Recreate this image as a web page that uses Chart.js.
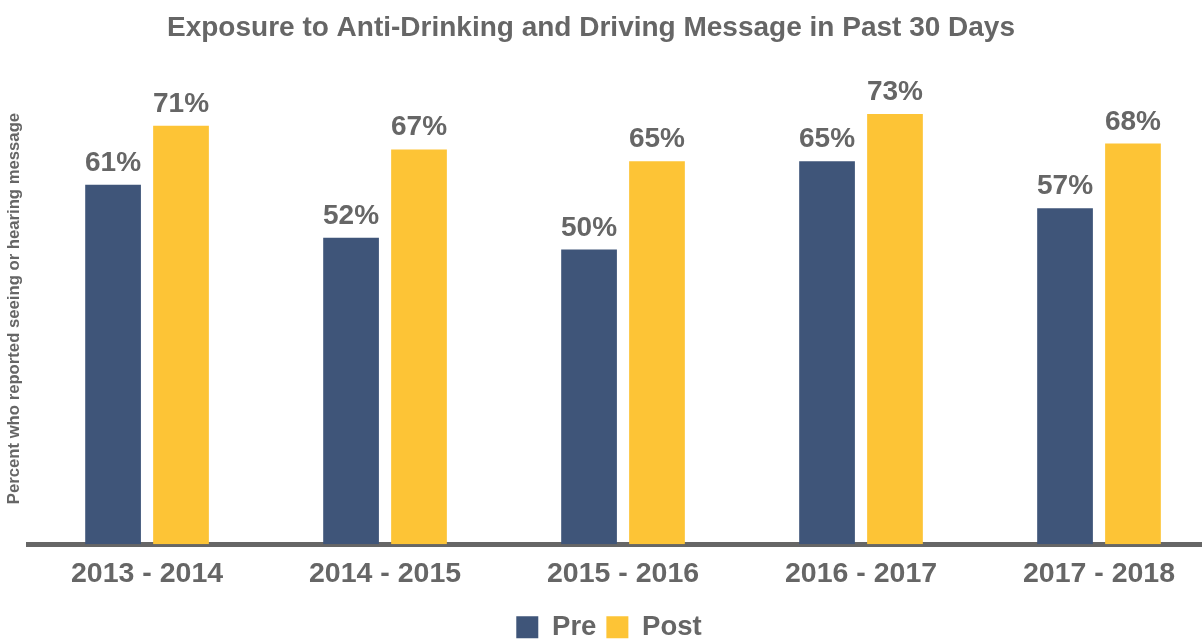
<!DOCTYPE html>
<html>
<head>
<meta charset="utf-8">
<title>Exposure to Anti-Drinking and Driving Message</title>
<script src="https://cdn.jsdelivr.net/npm/chart.js@4/dist/chart.umd.min.js"></script>
<style>
  html, body { margin: 0; padding: 0; background: #fff; overflow: hidden; }
  #caja { width: 1220px; height: 651px; }
</style>
</head>
<body>
<div id="caja"><canvas id="grafica" width="1220" height="651"></canvas></div>
<script>
const periodos = ["2013 - 2014", "2014 - 2015", "2015 - 2016", "2016 - 2017", "2017 - 2018"];
const valoresPre = [61, 52, 50, 65, 57];
const valoresPost = [71, 67, 65, 73, 68];
const nombresSeries = ["Pre", "Post"];
const titulo = "Exposure to Anti-Drinking and Driving Message in Past 30 Days";
const tituloEjeY = "Percent who reported seeing or hearing message";

const gris = "#666666";
const colorPre = "#3f5579";
const colorPost = "#fdc436";

Chart.defaults.font.family = "'Liberation Sans', Arial, Helvetica, sans-serif";
Chart.defaults.color = gris;

// etiquetas de porcentaje sobre cada barra
const etiquetasBarras = {
  id: "etiquetasBarras",
  afterDatasetsDraw(chart) {
    const ctx = chart.ctx;
    ctx.save();
    ctx.font = "bold 28px 'Liberation Sans', Arial, sans-serif";
    ctx.fillStyle = gris;
    ctx.textAlign = "center";
    ctx.textBaseline = "alphabetic";
    chart.data.datasets.forEach((ds, i) => {
      chart.getDatasetMeta(i).data.forEach((barra, j) => {
        ctx.fillText(`${ds.data[j]}%`, barra.x, barra.y - 14);
      });
    });
    ctx.restore();
  },
};

// el titulo va un poco corrido a la izquierda
const ajusteTitulo = {
  id: "ajusteTitulo",
  afterLayout(chart) {
    if (chart.titleBlock) {
      chart.titleBlock.right -= 36;
    }
  },
};

const configuracion = {
  type: "bar",
  data: {
    labels: periodos,
    datasets: [
      {
        label: nombresSeries[0],
        data: valoresPre,
        backgroundColor: colorPre,
        categoryPercentage: 0.571,
        barPercentage: 0.82,
      },
      {
        label: nombresSeries[1],
        data: valoresPost,
        backgroundColor: colorPost,
        categoryPercentage: 0.571,
        barPercentage: 0.82,
      },
    ],
  },
  options: {
    responsive: false,
    animation: false,
    layout: { padding: { left: 0, right: 2, top: 0, bottom: 0 } },
    plugins: {
      tooltip: { enabled: false },
      title: {
        display: true,
        text: titulo,
        color: gris,
        font: { size: 28, weight: "bold" },
        padding: { top: 11.2, bottom: 28 },
      },
      legend: {
        position: "bottom",
        labels: {
          color: gris,
          font: { size: 27.5, weight: "bold" },
          boxWidth: 22,
          boxHeight: 22,
          padding: 10,
        },
      },
    },
    scales: {
      x: {
        z: 1,
        grid: { display: false, drawTicks: false },
        border: { display: true, color: gris, width: 5 },
        ticks: {
          color: gris,
          font: { size: 28.5, weight: "bold" },
          padding: 12.5,
        },
      },
      y: {
        min: 0,
        max: 80,
        grid: { display: false, drawTicks: false },
        border: { display: false },
        ticks: { display: false },
        title: {
          display: true,
          text: tituloEjeY,
          color: gris,
          font: { size: 16.7, weight: "bold" },
          padding: { top: 4, bottom: 4 },
        },
      },
    },
  },
  plugins: [etiquetasBarras, ajusteTitulo],
};

const grafica = new Chart(document.querySelector("#grafica"), configuracion);
</script>
</body>
</html>
